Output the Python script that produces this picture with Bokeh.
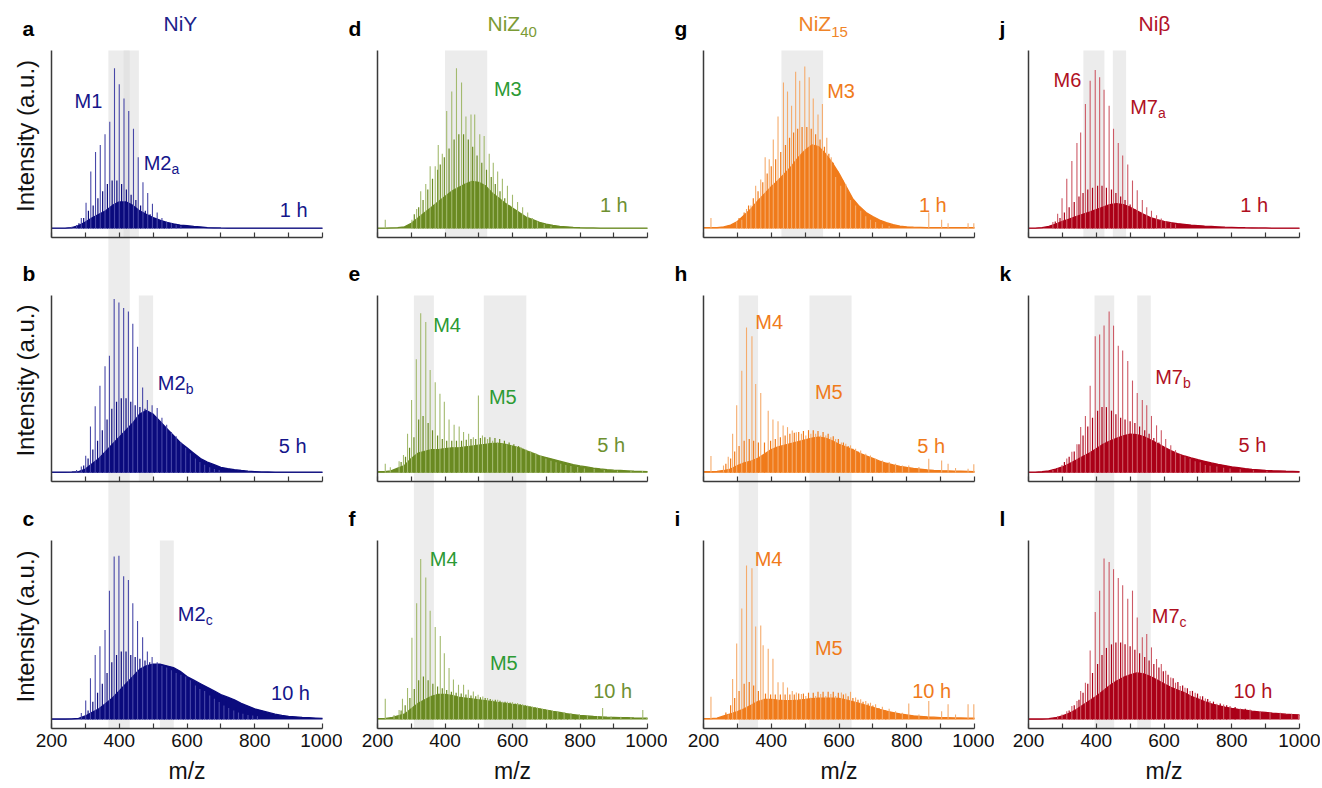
import math
from bokeh.plotting import figure
from bokeh.models import Range1d, LinearAxis, FixedTicker
from bokeh.layouts import row
from bokeh.core.properties import value
from bokeh.embed import file_html
from bokeh.resources import INLINE

FONT = "Liberation Sans"

# ---------------- data ----------------
MZ_TICKS = [200, 300, 400, 500, 600, 700, 800, 900, 1000]
MZ_TICK_LABELS = ["200", "", "400", "", "600", "", "800", "", "1000"]

ENV_MZ = [200, 220, 240, 260, 280, 300, 320, 340, 360, 380,
          400, 420, 440, 460, 480, 500, 520, 540, 560, 580,
          600, 620, 640, 660, 680, 700, 720, 740, 760, 780,
          800, 820, 840, 860, 880, 900, 920, 940, 960, 980, 1000]

ENV_A = [0.3, 0.3, 0.3, 0.6, 1.7, 3.7, 6, 8, 10, 13,
         15, 15, 13, 10, 8, 6.2, 4.7, 3.5, 2.7, 2,
         1.6, 1.2, 0.9, 0.6, 0.45, 0.35, 0.3, 0.3, 0.3, 0.3,
         0.3, 0.3, 0.3, 0.3, 0.3, 0.3, 0.3, 0.3, 0.3, 0.3, 0.3]
ENV_B = [0.3, 0.3, 0.3, 0.4, 0.6, 2, 5, 8, 12, 16,
         20, 24, 28, 33, 35, 33, 29, 25, 21, 17,
         14, 11, 8, 6, 4.5, 3, 2.3, 1.7, 1.2, 0.8,
         0.6, 0.4, 0.35, 0.3, 0.3, 0.3, 0.3, 0.3, 0.3, 0.3, 0.3]
ENV_C = [0.3, 0.3, 0.3, 0.4, 0.6, 2, 4, 6, 9, 12,
         16, 20, 24, 28, 30, 31, 31, 30, 29, 27,
         24, 22, 20, 18, 16, 14, 12.5, 11, 9, 7.5,
         6, 5, 4, 3, 2.3, 1.8, 1.5, 1.2, 1, 0.8, 0.6]
ENV_D = [0.3, 0.3, 0.4, 0.5, 1, 3, 6, 9, 12, 15,
         18, 21, 23, 25, 26.5, 26, 24, 20, 17, 14,
         11.5, 9, 6.5, 5, 3.5, 2.5, 1.8, 1.3, 1, 0.7,
         0.5, 0.4, 0.35, 0.3, 0.3, 0.3, 0.3, 0.3, 0.3, 0.3, 0.3]
ENV_E = [0.5, 0.5, 1, 2.5, 4, 8, 11, 12, 13, 13,
         13.5, 14, 14, 14.5, 15, 15.5, 16, 16.5, 16.5, 16,
         15, 14, 12.5, 11, 9.5, 8.5, 7.5, 6.5, 5.5, 4.5,
         3.8, 3.2, 2.6, 2.1, 1.7, 1.4, 1.2, 1, 0.8, 0.7, 0.6]
ENV_F = [0.5, 0.5, 1, 2, 3, 6, 9, 11, 13, 14,
         14, 13.5, 12.5, 12, 11.5, 11, 10.5, 10, 9.5, 9,
         8.5, 8, 7.3, 6.6, 6, 5.3, 4.6, 4, 3.3, 2.8,
         2.3, 2, 1.7, 1.5, 1.3, 1.2, 1.1, 1, 0.9, 0.85, 0.8]
ENV_G = [0.5, 0.5, 0.5, 1, 2, 4, 7.5, 11, 15.5, 19.5,
         23.5, 27, 31, 35, 40, 44, 47, 46, 42, 37,
         31, 24, 17, 12.5, 9, 6.8, 4.8, 3.3, 2.2, 1.4,
         1, 0.8, 0.7, 0.6, 0.5, 0.5, 0.5, 0.5, 0.5, 0.5, 0.5]
ENV_H = [0.5, 0.5, 0.7, 1.2, 2, 4, 5.5, 6.5, 8, 10.5,
         13, 14.5, 15.5, 16.5, 17.5, 18.5, 19.5, 20, 19.5, 18,
         16, 14.5, 13, 11, 9.5, 8, 6.5, 5.3, 4.4, 3.6,
         2.9, 2.4, 2, 1.6, 1.3, 1.1, 1, 0.9, 0.8, 0.7, 0.6]
ENV_I = [0.5, 0.5, 0.8, 2, 3.2, 4.5, 6, 8, 10, 11.2,
         11.2, 10.8, 10.5, 10.5, 10.8, 11.2, 11.7, 12, 12, 12,
         11.8, 11, 10, 9, 7.9, 6.8, 5.7, 4.7, 3.9, 3.1,
         2.6, 2.1, 1.8, 1.5, 1.3, 1.1, 1, 0.9, 0.9, 0.8, 0.8]
ENV_J = [0.3, 0.3, 0.6, 1.2, 2.5, 4, 5.3, 6.7, 8, 9.3,
         10.7, 12, 13.5, 14, 13.5, 12, 10, 8, 6.2, 5,
         4, 3.3, 2.8, 2.4, 2, 1.7, 1.4, 1.2, 1, 0.8,
         0.7, 0.6, 0.5, 0.45, 0.4, 0.35, 0.3, 0.3, 0.3, 0.3, 0.3]
ENV_K = [0.3, 0.3, 0.5, 1, 2, 3.2, 5, 7, 9, 11,
         13.5, 16, 17.8, 19.3, 20.8, 21.8, 21.5, 20.3, 18.5, 16.5,
         14.5, 12.5, 10.8, 9.4, 8.3, 7.3, 6.4, 5.5, 4.7, 4,
         3.3, 2.8, 2.3, 1.9, 1.6, 1.3, 1.1, 0.95, 0.8, 0.7, 0.6]
ENV_L = [0.3, 0.3, 0.3, 0.5, 1, 2, 3.5, 5.5, 8, 10.5,
         13, 16, 19, 21.5, 23.5, 25, 26, 25.5, 24, 22,
         20, 18, 16.5, 15, 13, 11.5, 10, 8.8, 7.8, 7,
         6.3, 5.7, 5.2, 4.7, 4.3, 4, 3.6, 3.3, 3, 2.8, 2.6]

# main (tall) peak series
SPK_A_MZ = [260, 274, 288, 302, 316, 330, 344, 358, 372, 386, 400, 414,
            428, 442, 456, 470, 484, 498, 512, 526, 540, 554, 568, 582]
SPK_A_H = [1, 2, 6, 14.5, 32, 43, 47, 53, 60, 90, 81, 73,
           66, 56, 40, 26, 20, 14, 9, 6, 4, 3, 2, 1.5]
SPK_B_MZ = [274, 288, 301, 315, 329, 343, 358, 371, 385, 399, 413, 427, 440, 454, 469, 483,
            497, 512, 526, 540, 554, 568, 582, 596, 610, 625, 638, 652, 667, 681, 695]
SPK_B_H = [1.5, 3.4, 9.5, 26, 37.5, 49, 60, 66, 98, 96, 93, 91, 84, 71, 48, 41,
           38, 36.5, 31, 27, 23, 20.5, 17, 14, 11, 8, 6, 4.4, 3, 2, 1.5]
SPK_C_MZ = [288, 301, 315, 329, 343, 358, 371, 385, 399, 413, 427, 440, 454, 469, 483, 497,
            512, 526, 540, 554, 568, 582, 596, 610, 625, 638, 652, 667, 681, 695, 709, 723,
            738, 752, 765, 780, 794, 808]
SPK_C_H = [3.6, 10.7, 23, 36, 41, 50, 72, 91, 91.5, 80, 78, 65, 55, 46, 38, 35,
           32, 30, 29, 27.6, 26, 25, 24, 22, 19, 17, 16, 13.5, 11.6, 9.8, 7.9, 6.4,
           5, 4, 3.2, 2.6, 2.2, 1.9]
SPK_D_MZ = [223, 302, 316, 328, 343, 356, 371, 380, 392, 405, 420, 434, 449, 462, 477, 488,
            503, 516, 531, 543, 556, 570, 585, 600, 615, 630, 645, 659, 674, 694, 714]
SPK_D_H = [5, 5, 11, 21, 25, 35, 35, 47, 42, 66, 77, 90, 82, 63, 64, 64,
           53, 52, 42, 37, 32, 28, 24, 19, 15, 12, 9, 6, 4, 2.4, 1.5]
SPK_E_MZ = [223, 238, 264, 277, 289, 301, 315, 328, 343, 356, 371, 385, 398, 412, 427, 442,
            455, 470, 484, 499, 511, 526, 541, 556, 569, 583, 597, 612, 625, 640, 654, 669,
            684, 699, 714, 729, 743, 758, 773, 793, 813, 842, 872, 911, 951, 985]
SPK_E_H = [5, 3, 6.5, 10, 22, 41, 64, 90, 85, 58, 51, 44.5, 40, 30, 27, 26,
           23, 22, 20, 43.5, 21, 19, 18, 17, 16.5, 16, 15.5, 15, 14.5, 13, 12, 11,
           9.5, 8, 6.7, 5.8, 5, 4.3, 3.7, 3.2, 2.4, 2, 1.5, 1.1, 0.9, 0.9]
SPK_F_MZ = [223, 249, 264, 274, 289, 302, 316, 328, 343, 356, 371, 386, 398, 412, 425, 440,
            455, 469, 484, 498, 512, 526, 541, 556, 570, 585, 600, 615, 630, 645, 659, 674,
            689, 704, 719, 734, 753, 773, 798, 822, 852, 867, 892, 921, 951, 986, 998]
SPK_F_H = [11.6, 2.6, 5.4, 11.6, 17.6, 45.7, 65, 89.7, 79.4, 60.7, 51.7, 46.6, 37, 28.8, 22.3, 19.5,
           19.5, 16.7, 15.7, 13.9, 12.9, 12, 11, 11, 10, 10, 9.7, 9.2, 8.6, 7.9, 7.3, 6.7,
           6, 5.4, 4.9, 4.5, 4.1, 3.6, 3, 2.6, 2, 6.4, 1.7, 1.5, 1.3, 5.4, 1]
SPK_G_MZ = [222, 298, 313, 327, 340, 354, 369, 382, 394, 406, 420, 436, 448, 460, 472, 484,
            499, 512, 524, 538, 551, 564, 577, 590, 605, 620, 634, 649, 664, 679, 693, 708,
            728, 748, 865, 903, 922, 981, 998]
SPK_G_H = [6, 4, 5, 11, 13, 24, 27.5, 40, 39, 50, 63, 82, 77, 69, 88, 83,
           91, 85, 73, 64, 70, 51, 40, 29, 24, 25, 16, 13, 10, 7, 5, 3.7,
           2.4, 1.5, 9, 5, 3, 3, 3]
SPK_H_MZ = [222, 259, 273, 286, 298, 313, 327, 343, 354, 369, 391, 405, 420, 435, 448, 462,
            474, 489, 502, 517, 531, 546, 561, 576, 590, 607, 620, 634, 649, 664, 679, 693,
            708, 728, 748, 767, 787, 806, 836, 865, 903, 922, 944, 981, 998]
SPK_H_H = [9.4, 4, 9, 22, 38, 57.5, 82, 77, 50, 45, 35, 30, 29, 26.6, 25.7, 23.8,
           22.8, 22, 21, 22, 22, 21, 21, 20, 19, 17, 16.3, 15.4, 13.5, 12.5, 10.7, 9.7,
           7.9, 6.9, 6, 5, 4.1, 4, 3.2, 7.9, 6.9, 5, 2.6, 2.2, 4.7]
SPK_I_MZ = [222, 273, 286, 298, 313, 327, 343, 354, 369, 376, 391, 405, 420, 435, 448, 462,
            474, 489, 502, 517, 531, 546, 561, 576, 590, 607, 620, 634, 649, 664, 679, 693,
            708, 728, 748, 767, 787, 806, 836, 865, 903, 922, 944, 981, 998]
SPK_I_H = [12.8, 2.8, 22.6, 42.5, 62, 86, 84.5, 52, 52.5, 41.5, 39.6, 34, 20.8, 20.8, 17.9, 16,
           15.1, 14.2, 13.2, 12.3, 13.2, 14.2, 13.2, 14.2, 13.2, 15.1, 14.5, 15.5, 12.3, 11.3, 10.4, 9.4,
           8.5, 7.2, 6, 4.7, 3.8, 9, 2.8, 10.4, 4.7, 8.5, 2.8, 8.5, 8.5]
SPK_J_MZ = [272, 286, 299, 313, 328, 343, 354, 368, 382, 397, 410, 423, 438, 451,
            465, 478, 493, 507, 521, 536, 549, 563, 578, 592, 605, 620, 634]
SPK_J_H = [3.7, 8.4, 17, 28, 38, 48, 54, 70, 83, 89, 85, 78, 69, 56,
           48, 41, 36, 27, 21.5, 16, 12, 10, 7.5, 5.6, 4.3, 3.2, 2.4]
SPK_K_MZ = [272, 286, 299, 313, 328, 343, 354, 368, 382, 397, 410, 423, 438, 451, 465, 478,
            493, 507, 521, 536, 549, 563, 578, 592, 605, 620, 634, 648, 662, 677, 692, 707,
            722, 736, 756, 776, 795, 825, 864, 904]
SPK_K_H = [1.5, 2.4, 4.3, 8, 11.8, 16, 25.8, 32, 49, 77, 78, 83, 91, 83, 71.6, 69,
           63, 52, 45, 41, 38, 32, 26.7, 24, 19, 15.5, 12.7, 10.3, 9, 8, 6.5, 5.8,
           4.3, 3.9, 3.4, 2.8, 2.4, 1.9, 1.3, 0.9]
SPK_L_MZ = [286, 299, 313, 328, 343, 354, 368, 382, 397, 410, 423, 438, 451, 465, 478, 493,
            507, 521, 536, 549, 563, 578, 592, 605, 620, 634, 648, 662, 677, 692, 707, 722,
            736, 756, 776, 795, 825, 854, 884, 913, 943, 977, 997]
SPK_L_H = [1.9, 2.8, 4.7, 7.5, 10.3, 16, 20.6, 38.5, 60, 72, 90, 88, 84, 79, 75, 67.5,
           72, 57, 46, 47.8, 40.3, 33.8, 31, 27.2, 23.5, 20.6, 18.8, 17.8, 16, 15, 13, 11.8,
           10.3, 8.8, 8.4, 7.5, 6.2, 5.6, 4.7, 4.1, 3.8, 3.2, 2.8]

# secondary (dark, in-between) peak series
SUB_A_MZ = [281, 295, 309, 323, 337, 351, 365, 379, 393, 407, 421, 435, 449, 463, 477, 491,
            505, 519, 533, 547]
SUB_A_H = [3, 6, 10, 13, 17, 21, 25, 27, 27, 25, 22, 19, 16, 13, 10, 8,
           6, 4.5, 3.5, 2.5]
SUB_B_MZ = [295, 308, 322, 336, 350, 364, 378, 392, 406, 420, 434, 447, 461, 476, 490, 504,
            519, 533, 547, 561, 575, 589, 603, 617, 632, 645, 659]
SUB_B_H = [4, 8, 13, 18, 24, 30, 36, 40, 42, 42, 40, 38, 37, 36, 33, 30,
           27, 23, 20, 17, 14, 11, 9, 7, 5, 4, 3]
SUB_C_MZ = [308, 322, 336, 350, 364, 378, 392, 406, 420, 434, 447, 461, 476, 490, 504, 519,
            533, 547, 561, 575, 589, 603, 617, 632, 645, 659, 674, 688, 702, 716, 730, 745,
            759, 772, 787]
SUB_C_H = [5, 10, 15, 20, 26, 32, 36, 38, 38, 36, 35, 34, 33, 32, 31, 30,
           29, 28, 27, 26, 25, 23, 21, 19, 17.5, 16, 14.5, 13, 11.5, 10, 8.5, 7,
           6, 5, 4]
SUB_D_MZ = [309, 322, 335, 349, 363, 378, 386, 398, 412, 427, 441, 455, 469, 482, 495, 509,
            523, 537, 549, 563, 577, 592, 607, 622, 637, 652, 666]
SUB_D_H = [8, 12, 16, 22, 28, 33, 36, 40, 45, 50, 53, 53, 50, 46, 41, 37,
           33, 29, 25, 21, 17, 13, 10, 7.5, 5.5, 4, 3]
SUB_E_MZ = [270, 283, 295, 308, 322, 335, 350, 363, 378, 392, 405, 420, 434, 449, 463, 477,
            491, 505, 518, 533, 548, 562, 576, 590, 604, 618, 632, 647, 661, 676, 691, 706,
            721, 736, 750, 765, 783, 803]
SUB_E_H = [6, 9, 14, 20, 30, 32, 28, 24, 21, 19, 18, 18, 18, 18, 18.5, 19,
           19, 19.5, 20, 20, 19.5, 19, 18, 17, 16, 15, 13.5, 12, 11, 9.5, 8.5, 7.5,
           6.5, 5.5, 4.6, 3.8, 3.2, 2.6]
SUB_F_MZ = [270, 282, 296, 309, 322, 336, 350, 364, 378, 392, 405, 419, 433, 448, 462, 477,
            491, 505, 519, 534, 549, 563, 578, 593, 608, 623, 638, 652, 667, 682, 697, 712,
            727, 744, 763, 786, 810]
SUB_F_H = [5, 8, 12, 17, 22, 24, 22, 20, 18.5, 17.5, 16.5, 15.5, 15, 14.5, 14, 13.5,
           13, 12.5, 12, 11.5, 11, 10.5, 10, 9.5, 9, 8.5, 8, 7.4, 6.8, 6.2, 5.6, 5,
           4.4, 3.8, 3.2, 2.6, 2.2]
SUB_G_MZ = [305, 320, 333, 347, 361, 375, 388, 400, 413, 428, 442, 454, 466, 478, 491, 505,
            518, 531, 544, 557, 570, 583, 597, 612, 627, 641, 656, 671, 686, 700, 718]
SUB_G_H = [6, 9, 13, 17, 21, 26, 31, 35, 39, 43, 47, 51, 54, 56, 57, 57,
           56, 53, 50, 46, 42, 37, 32, 27, 21, 16, 12, 9, 6.5, 4.5, 3]
SUB_H_MZ = [266, 280, 292, 305, 320, 335, 348, 362, 380, 398, 412, 427, 441, 455, 468, 481,
            495, 510, 524, 538, 553, 568, 583, 598, 613, 627, 641, 656, 671, 686, 700, 718,
            738, 757]
SUB_H_H = [5, 8, 12, 15, 18, 19, 18, 17, 17, 18, 19, 20, 21, 22, 22.5, 23,
           23.5, 24, 24, 23.5, 23, 22, 20.5, 19, 17, 15, 13.5, 12, 10.5, 9, 7.5, 6.5,
           5.2, 4.2]
SUB_I_MZ = [266, 280, 292, 305, 320, 335, 348, 362, 383, 398, 412, 427, 441, 455, 468, 481,
            495, 510, 524, 538, 553, 568, 583, 598, 613, 627, 641, 656, 671, 686, 700, 718,
            738]
SUB_I_H = [4, 8, 12, 16, 20, 21, 19, 16, 14.5, 14, 14, 14, 14, 14, 14, 14.5,
           14.5, 15, 15, 15.5, 15.5, 15.5, 15.5, 15, 14, 13, 12, 11, 10, 9, 7.8, 6.5,
           5.2]
SUB_J_MZ = [279, 293, 306, 320, 335, 349, 361, 375, 389, 404, 417, 430, 445, 458, 472, 485,
            500, 514, 528, 543, 556, 570]
SUB_J_H = [4, 6, 9, 12, 15, 18, 20, 22, 23, 24, 24, 23, 22, 20, 18, 16,
           13.5, 11, 9, 7, 5.5, 4.2]
SUB_K_MZ = [306, 320, 335, 349, 361, 375, 389, 404, 417, 430, 445, 458, 472, 485, 500, 514,
            528, 543, 556, 570, 585, 598, 612, 627, 641, 655, 669, 684, 699, 714]
SUB_K_H = [6, 9, 12, 16, 21, 26, 31, 35, 37, 37, 35, 33, 31, 30, 29, 28,
           26, 24, 22, 19.5, 17, 15, 13, 11.5, 10, 9, 8, 7, 6, 5.2]
SUB_L_MZ = [320, 335, 349, 361, 375, 389, 404, 417, 430, 445, 458, 472, 485, 500, 514, 528,
            543, 556, 570, 585, 598, 612, 627, 641, 655, 669, 684, 699, 714, 729, 746, 766,
            785, 810, 840]
SUB_L_H = [5, 8, 11, 15, 20, 26, 31, 36, 40, 42, 43, 43, 42, 41, 39, 37,
           35, 33, 31, 29, 27, 25, 23, 21, 19, 17.5, 16, 14.5, 13, 11.5, 10, 9,
           8, 7, 6]

# highlighted m/z windows: (from, to, first row, last row)
BANDS_NIY = [(368, 431, 0, 2), (413, 458, 0, 0), (458, 500, 1, 1), (520, 561, 2, 2)]
BANDS_NIZ40 = [(400, 525, 0, 0), (308, 367, 1, 2), (515, 641, 1, 2)]
BANDS_NIZ15 = [(430, 553, 0, 0), (304, 361, 1, 2), (513, 637, 1, 2)]
BANDS_NIB = [(362, 424, 0, 0), (449, 488, 0, 0), (395, 453, 1, 2), (521, 561, 1, 2)]

# annotations: (text, subscript, m/z, intensity, kind)  kind: "m" peak label, "t" time label
NOTE_A = [("M1", "", 268, 71.5, "m"), ("M2", "a", 472, 37, "m"), ("1 h", "", 874, 10.2, "t")]
NOTE_B = [("M2", "b", 514, 50.4, "m"), ("5 h", "", 871, 14.8, "t")]
NOTE_C = [("M2", "c", 573, 58.8, "m"), ("10 h", "", 848, 14.8, "t")]
NOTE_D = [("M3", "", 545, 78.5, "m"), ("1 h", "", 859, 13, "t")]
NOTE_E = [("M4", "", 365, 83.2, "m"), ("M5", "", 530, 42.9, "m"), ("5 h", "", 851, 15.8, "t")]
NOTE_F = [("M4", "", 355, 89.7, "m"), ("M5", "", 533, 31.7, "m"), ("10 h", "", 839, 15.8, "t")]
NOTE_G = [("M3", "", 565, 77.5, "m"), ("1 h", "", 836, 13, "t")]
NOTE_H = [("M4", "", 353, 85, "m"), ("M5", "", 529, 45.7, "m"), ("5 h", "", 831, 14.8, "t")]
NOTE_I = [("M4", "", 351, 89.7, "m"), ("M5", "", 529, 40.1, "m"), ("10 h", "", 816, 15.8, "t")]
NOTE_J = [("M6", "", 274, 83.7, "m"), ("M7", "a", 500, 68.2, "m"), ("1 h", "", 825, 13, "t")]
NOTE_K = [("M7", "b", 574, 54.1, "m"), ("5 h", "", 820, 15.8, "t")]
NOTE_L = [("M7", "c", 564, 57.9, "m"), ("10 h", "", 805, 15.8, "t")]

COLUMNS = [
    dict(title="NiY", sub="", fill="#0b0b7d", spike="#4848a8", mtext="#15158a", ttext="#15158a",
         title_color="#1c228a", bands=BANDS_NIY),
    dict(title="NiZ", sub="40", fill="#6a8a22", spike="#a3ba6e", mtext="#2c9a34", ttext="#6e9030",
         title_color="#7b9b35", bands=BANDS_NIZ40),
    dict(title="NiZ", sub="15", fill="#f07b1b", spike="#f5ab6c", mtext="#f07b1b", ttext="#f07b1b",
         title_color="#f08428", bands=BANDS_NIZ15),
    dict(title="Ni\u03b2", sub="", fill="#ab0018", spike="#cd5a66", mtext="#b0101f", ttext="#b0101f",
         title_color="#b3132b", bands=BANDS_NIB),
]

PANELS = [
    ("a", 0, 0, ENV_A, SPK_A_MZ, SPK_A_H, SUB_A_MZ, SUB_A_H, NOTE_A),
    ("b", 0, 1, ENV_B, SPK_B_MZ, SPK_B_H, SUB_B_MZ, SUB_B_H, NOTE_B),
    ("c", 0, 2, ENV_C, SPK_C_MZ, SPK_C_H, SUB_C_MZ, SUB_C_H, NOTE_C),
    ("d", 1, 0, ENV_D, SPK_D_MZ, SPK_D_H, SUB_D_MZ, SUB_D_H, NOTE_D),
    ("e", 1, 1, ENV_E, SPK_E_MZ, SPK_E_H, SUB_E_MZ, SUB_E_H, NOTE_E),
    ("f", 1, 2, ENV_F, SPK_F_MZ, SPK_F_H, SUB_F_MZ, SUB_F_H, NOTE_F),
    ("g", 2, 0, ENV_G, SPK_G_MZ, SPK_G_H, SUB_G_MZ, SUB_G_H, NOTE_G),
    ("h", 2, 1, ENV_H, SPK_H_MZ, SPK_H_H, SUB_H_MZ, SUB_H_H, NOTE_H),
    ("i", 2, 2, ENV_I, SPK_I_MZ, SPK_I_H, SUB_I_MZ, SUB_I_H, NOTE_I),
    ("j", 3, 0, ENV_J, SPK_J_MZ, SPK_J_H, SUB_J_MZ, SUB_J_H, NOTE_J),
    ("k", 3, 1, ENV_K, SPK_K_MZ, SPK_K_H, SUB_K_MZ, SUB_K_H, NOTE_K),
    ("l", 3, 2, ENV_L, SPK_L_MZ, SPK_L_H, SUB_L_MZ, SUB_L_H, NOTE_L),
]

# ---------------- layout (page pixels) ----------------
PAGE_TOP, PAGE_BOTTOM = 0, 788
ROW_TOP = [50, 295, 540]        # intensity 100
ROW_AXIS = [237, 481, 728]      # intensity -5 (x axis line)
FIG_LEFT = [0, 342, 667, 994]
FIG_RIGHT = [342, 667, 994, 1320]
COL_AXIS = [51, 377, 703, 1028]    # m/z 200
COL_RIGHT = [322, 647, 974, 1299]  # m/z 1000
TITLE_LEFT = [163, 487, 798, 1138]
AX = "#3a3a3a"

CHAR_W = {"M": .833, "1": .556, "2": .556, "7": .556, "N": .722, "i": .222, "Z": .611}


def text_w(s, size):
    return sum(CHAR_W.get(ch, .556) for ch in s) * size


def ppu(c):
    return (COL_RIGHT[c] - COL_AXIS[c]) / 800.0


def kpx(r):
    return (ROW_AXIS[r] - ROW_TOP[r]) / 105.0


def X(c, px):
    return 200 + (px - COL_AXIS[c]) / ppu(c)


def Y(r, py):
    return 100 - (py - ROW_TOP[r]) / kpx(r)


for pnl in PANELS:
    assert len(pnl[3]) == len(ENV_MZ)
    assert len(pnl[4]) == len(pnl[5])
    assert len(pnl[6]) == len(pnl[7])

figs = []
for c in range(4):
    col = COLUMNS[c]
    p = figure(frame_width=FIG_RIGHT[c] - FIG_LEFT[c], frame_height=PAGE_BOTTOM - PAGE_TOP,
               x_range=Range1d(X(c, FIG_LEFT[c]), X(c, FIG_RIGHT[c])), y_range=Range1d(0, 1),
               x_axis_location=None, y_axis_location=None, toolbar_location=None,
               output_backend="svg", min_border_left=0, min_border_right=0,
               min_border_top=0, min_border_bottom=0, outline_line_color=None,
               background_fill_color="white", border_fill_color="white")
    p.extra_y_ranges = {f"r{r}": Range1d(Y(r, PAGE_BOTTOM), Y(r, PAGE_TOP)) for r in range(3)}
    p.grid.visible = False

    # highlighted windows
    for (lo, hi, r0, r1) in col["bands"]:
        p.quad(left=[lo], right=[hi], top=[100], bottom=[Y(r0, ROW_AXIS[r1])],
               y_range_name=f"r{r0}", fill_color="#d9d9d9", fill_alpha=0.5, line_color=None)

    # spectra
    for key, pc, r, env, smz, sh, umz, uh, notes in PANELS:
        if pc != c:
            continue
        rn = f"r{r}"
        p.varea(x=ENV_MZ, y1=0, y2=env, fill_color=col["fill"], y_range_name=rn)
        p.line(ENV_MZ, env, line_color=col["fill"], line_width=1.3, y_range_name=rn)
        p.segment(x0=umz, y0=0, x1=umz, y1=uh, line_color=col["fill"], line_width=1.2,
                  y_range_name=rn)
        p.segment(x0=smz, y0=0, x1=smz, y1=sh, line_color=col["spike"], line_width=1.1,
                  y_range_name=rn)
        # panel letter
        p.text(x=[X(c, COL_AXIS[c] - 29)], y=[Y(r, ROW_TOP[r] - 22)], text=[key],
               text_font=value(FONT), text_font_size="21px", text_font_style="bold",
               text_color="#000000", text_align="left", text_baseline="middle", y_range_name=rn)
        for (t, sub, mx, my, kind) in notes:
            color = col["mtext"] if kind == "m" else col["ttext"]
            p.text(x=[mx], y=[my], text=[t], text_font=value(FONT), text_font_size="20px",
                   text_color=color, text_align="left", text_baseline="middle", y_range_name=rn)
            if sub:
                p.text(x=[mx + text_w(t, 20) / ppu(c)], y=[my - 6 / kpx(r)], text=[sub],
                       text_font=value(FONT), text_font_size="14px", text_color=color,
                       text_align="left", text_baseline="middle", y_range_name=rn)
        if c == 0:
            p.text(x=[X(0, 25)], y=[52], text=["Intensity (a.u.)"], angle=math.pi / 2,
                   text_font=value(FONT), text_font_size="24px", text_color="#111111",
                   text_align="center", text_baseline="middle", y_range_name=rn)

    # column title
    p.text(x=[X(c, TITLE_LEFT[c])], y=[Y(0, 23)], text=[col["title"]], text_font=value(FONT),
           text_font_size="21px", text_color=col["title_color"], text_align="left",
           text_baseline="middle", y_range_name="r0")
    if col["sub"]:
        p.text(x=[X(c, TITLE_LEFT[c] + text_w(col["title"], 21))], y=[Y(0, 31)], text=[col["sub"]],
               text_font=value(FONT), text_font_size="15px", text_color=col["title_color"],
               text_align="left", text_baseline="middle", y_range_name="r0")

    # m/z label
    p.text(x=[600], y=[Y(2, 770)], text=["m/z"], text_font=value(FONT), text_font_size="23px",
           text_color="#111111", text_align="center", text_baseline="middle", y_range_name="r2")

    # axes
    for r in range(3):
        labels = {t: (lab if r == 2 else "") for t, lab in zip(MZ_TICKS, MZ_TICK_LABELS)}
        xa = LinearAxis(fixed_location=-5, y_range_name=f"r{r}", bounds=(200, 1000),
                        ticker=FixedTicker(ticks=MZ_TICKS, minor_ticks=[]),
                        major_tick_in=5, major_tick_out=0, minor_tick_in=0, minor_tick_out=0,
                        axis_line_color=AX, axis_line_width=1.5, major_tick_line_color=AX,
                        major_tick_line_width=1.2, major_label_overrides=labels,
                        major_label_text_font=FONT, major_label_text_font_size="19px",
                        major_label_text_color="#111111", major_label_standoff=5)
        p.add_layout(xa, "below")
        ya = LinearAxis(fixed_location=200, y_range_name=f"r{r}", bounds=(-5, 100),
                        ticker=FixedTicker(ticks=[], minor_ticks=[]),
                        major_tick_in=0, major_tick_out=0, minor_tick_in=0, minor_tick_out=0,
                        axis_line_color=AX, axis_line_width=1.5,
                        major_label_text_font_size="0px")
        p.add_layout(ya, "left")
    figs.append(p)

layout = row(*figs)
open("out.html", "w").write(file_html(layout, INLINE, title="MS spectra"))
